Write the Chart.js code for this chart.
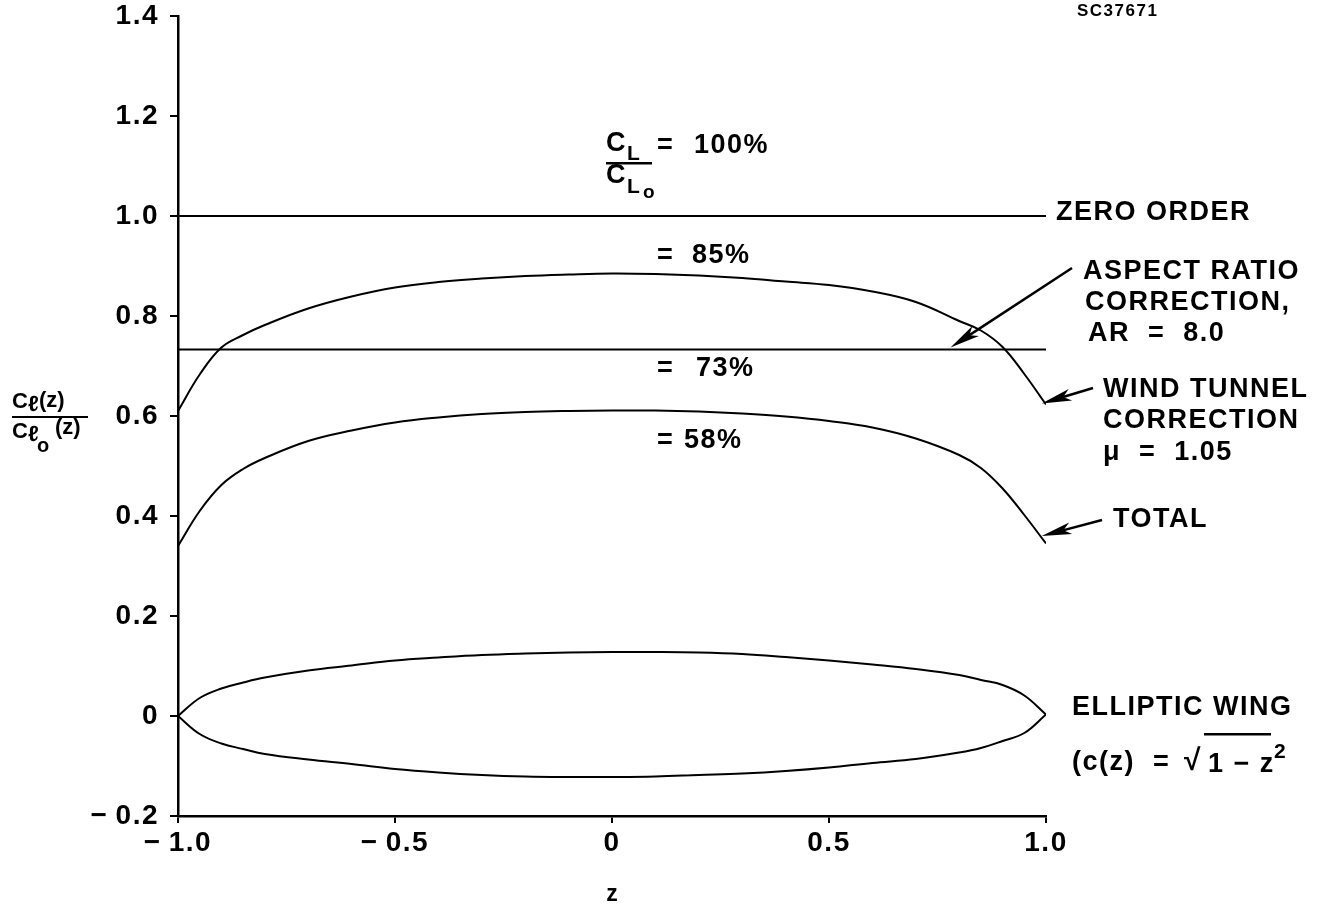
<!DOCTYPE html>
<html lang="en">
<head>
<meta charset="UTF-8">
<title>Spanwise lift distribution</title>
<script src="https://cdn.jsdelivr.net/npm/chart.js"></script>
<style>
  body { margin: 0; background: #fff; }
  canvas { display: block; }
</style>
</head>
<body>
<canvas id="liftChart" width="1324" height="910"></canvas>

<script>
// spanwise station z, shared by the curves
const zStations = [-1, -0.95, -0.9, -0.85, -0.8, -0.7, -0.6, -0.5, -0.4, -0.3, -0.2, -0.1,
  0, 0.1, 0.2, 0.3, 0.4, 0.5, 0.6, 0.7, 0.8, 0.85, 0.9, 0.95, 1];

// wind tunnel correction, mu = 1.05 (85%)
const windTunnel = [0.61, 0.683, 0.737, 0.762, 0.782, 0.815, 0.839, 0.857, 0.868, 0.875, 0.88, 0.883,
  0.885, 0.884, 0.881, 0.876, 0.869, 0.862, 0.849, 0.828, 0.79, 0.771, 0.738, 0.684, 0.623];

// total (58%)
const total = [0.34, 0.41, 0.462, 0.494, 0.516, 0.55, 0.571, 0.587, 0.597, 0.604, 0.608, 0.61,
  0.611, 0.611, 0.609, 0.605, 0.599, 0.59, 0.577, 0.555, 0.522, 0.496, 0.455, 0.402, 0.345];

// elliptic wing planform outline
const wingUpper = [0, 0.036, 0.055, 0.067, 0.077, 0.091, 0.101, 0.111, 0.117, 0.122, 0.125, 0.127,
  0.128, 0.128, 0.127, 0.124, 0.118, 0.111, 0.103, 0.094, 0.082, 0.072, 0.062, 0.041, 0.003];
const wingLower = [0, -0.036, -0.055, -0.066, -0.076, -0.087, -0.096, -0.106, -0.113, -0.118, -0.121, -0.122,
  -0.122, -0.121, -0.118, -0.115, -0.11, -0.103, -0.094, -0.086, -0.073, -0.064, -0.05, -0.034, 0.003];

// constant levels
const zeroOrder = 1.0;
const aspectRatio = 0.733;
const levelSpan = [-1, 1];

const xTicks = [-1, -0.5, 0, 0.5, 1];
const yTicks = [-0.2, 0, 0.2, 0.4, 0.6, 0.8, 1.0, 1.2, 1.4];

const FONT = '"Liberation Sans", Arial, sans-serif';

function pts(xs, ys) {
  return xs.map((x, i) => ({ x: x, y: ys[i] }));
}
function fmt(v) {
  const r = Math.round(v * 10) / 10;
  if (r === 0) return '0';
  return (r < 0 ? '\u2212\u2009' : '') + Math.abs(r).toFixed(1);
}

function curve(data) {
  return {
    data: data,
    showLine: true,
    borderColor: '#000',
    borderWidth: 2,
    pointRadius: 0,
    tension: 0.4,
    fill: false
  };
}

const datasets = [
  curve(pts(levelSpan, [zeroOrder, zeroOrder])),
  curve(pts(levelSpan, [aspectRatio, aspectRatio])),
  curve(pts(zStations, windTunnel)),
  curve(pts(zStations, total)),
  curve(pts(zStations, wingUpper)),
  curve(pts(zStations, wingLower))
];

function text(ctx, s, x, y, size, align, spacing) {
  ctx.font = 'bold ' + size + 'px ' + FONT;
  ctx.letterSpacing = (spacing === undefined ? 1.5 : spacing) + 'px';
  ctx.textAlign = align || 'left';
  ctx.textBaseline = 'middle';
  ctx.fillText(s, x, y);
}

function arrow(ctx, x0, y0, x1, y1) {
  const a = Math.atan2(y1 - y0, x1 - x0);
  const len = 30, half = 6;
  ctx.beginPath();
  ctx.moveTo(x0, y0);
  ctx.lineTo(x1 - Math.cos(a) * len * 0.6, y1 - Math.sin(a) * len * 0.6);
  ctx.lineWidth = 2.5;
  ctx.stroke();
  ctx.beginPath();
  ctx.moveTo(x1, y1);
  ctx.lineTo(x1 - Math.cos(a) * len - Math.sin(a) * half, y1 - Math.sin(a) * len + Math.cos(a) * half);
  ctx.lineTo(x1 - Math.cos(a) * len * 0.75, y1 - Math.sin(a) * len * 0.75);
  ctx.lineTo(x1 - Math.cos(a) * len + Math.sin(a) * half, y1 - Math.sin(a) * len - Math.cos(a) * half);
  ctx.closePath();
  ctx.fill();
}

// labels, fractions and pointer arrows
const notes = {
  id: 'notes',
  beforeDraw(chart) {
    chart.ctx.letterSpacing = '1.5px';
  },
  afterDraw(chart) {
    const ctx = chart.ctx;
    const sx = chart.scales.x, sy = chart.scales.y;
    ctx.save();
    ctx.fillStyle = '#000';
    ctx.strokeStyle = '#000';

    text(ctx, 'SC37671', 1077, 11, 17);

    // CL / CLo = 100%
    text(ctx, 'C', 606, 144, 27, 'left', 0);
    text(ctx, 'L', 627, 154, 21, 'left', 0);
    ctx.fillRect(606, 162, 46, 2.5);
    text(ctx, 'C', 606, 176, 27, 'left', 0);
    text(ctx, 'L', 627, 187, 21, 'left', 0);
    text(ctx, 'o', 643, 193, 19, 'left', 0);
    text(ctx, '=', 657, 146, 27);
    text(ctx, '100%', 694, 146, 27);

    text(ctx, '=', 657, 256, 27);
    text(ctx, '85%', 692, 256, 27);
    text(ctx, '=', 657, 369, 27);
    text(ctx, '73%', 696, 369, 27);
    text(ctx, '=', 657, 441, 27);
    text(ctx, '58%', 684, 441, 27);

    text(ctx, 'ZERO ORDER', 1056, 213, 27);

    text(ctx, 'ASPECT RATIO', 1083, 272, 27);
    text(ctx, 'CORRECTION,', 1085, 303, 27);
    text(ctx, 'AR  =  8.0', 1088, 334, 27);

    text(ctx, 'WIND TUNNEL', 1103, 390, 27);
    text(ctx, 'CORRECTION', 1103, 421, 27);
    text(ctx, '\u03bc  =  1.05', 1103, 453, 27);

    text(ctx, 'TOTAL', 1113, 520, 27);

    text(ctx, 'ELLIPTIC WING', 1072, 708, 27);
    text(ctx, '(c(z)  =', 1072, 763, 27);
    text(ctx, '\u221a', 1184, 762, 30, 'left', 0);
    ctx.fillRect(1204, 733, 67, 2.5);
    text(ctx, '1 \u2212 z', 1208, 765, 27);
    text(ctx, '2', 1274, 752, 21);

    // arrows point at the curves they name
    arrow(ctx, 1072, 268, sx.getPixelForValue(0.78), sy.getPixelForValue(aspectRatio) - 2);
    arrow(ctx, 1093, 388, sx.getPixelForValue(0.99), sy.getPixelForValue(0.625));
    arrow(ctx, 1102, 520, sx.getPixelForValue(0.99), sy.getPixelForValue(0.36));

    // y-axis title: Cl(z) / Clo(z)
    text(ctx, 'C', 12, 402, 22, 'left', 0);
    text(ctx, '\u2113', 28, 405, 22, 'left', 0);
    text(ctx, '(z)', 39, 401, 22, 'left', 0);
    ctx.fillRect(12, 416, 76, 2);
    text(ctx, 'C', 12, 432, 22, 'left', 0);
    text(ctx, '\u2113', 28, 435, 22, 'left', 0);
    text(ctx, 'o', 37, 446, 20, 'left', 0);
    text(ctx, '(z)', 55, 428, 22, 'left', 0);

    // x-axis title
    text(ctx, 'z', sx.getPixelForValue(0), 895, 23, 'center', 0);
    ctx.restore();
  }
};

new Chart(document.getElementById('liftChart'), {
  type: 'scatter',
  data: { datasets: datasets },
  plugins: [notes],
  options: {
    responsive: false,
    animation: false,
    layout: { padding: { left: 0, right: 278, top: 16, bottom: 0 } },
    plugins: { legend: { display: false }, tooltip: { enabled: false } },
    scales: {
      x: {
        type: 'linear',
        min: -1,
        max: 1,
        afterFit: s => { s.height = 94; s.paddingLeft = 0; s.paddingRight = 0; },
        afterBuildTicks: s => { s.ticks = xTicks.map(v => ({ value: v })); },
        ticks: {
          callback: fmt,
          color: '#000',
          font: { family: FONT, size: 28, weight: 'bold' },
          padding: 3,
          maxRotation: 0
        },
        grid: { drawOnChartArea: false, drawTicks: true, tickLength: 7, color: '#000', lineWidth: 2 },
        border: { display: true, color: '#000', width: 2.5 }
      },
      y: {
        type: 'linear',
        min: -0.2,
        max: 1.4,
        afterFit: s => { s.width = 178; s.paddingTop = 0; s.paddingBottom = 0; },
        afterBuildTicks: s => { s.ticks = yTicks.map(v => ({ value: v })); },
        ticks: {
          callback: fmt,
          color: '#000',
          font: { family: FONT, size: 28, weight: 'bold' },
          padding: 11
        },
        grid: { drawOnChartArea: false, drawTicks: true, tickLength: 8, color: '#000', lineWidth: 2 },
        border: { display: true, color: '#000', width: 2.5 }
      }
    }
  }
});
</script>
</body>
</html>
